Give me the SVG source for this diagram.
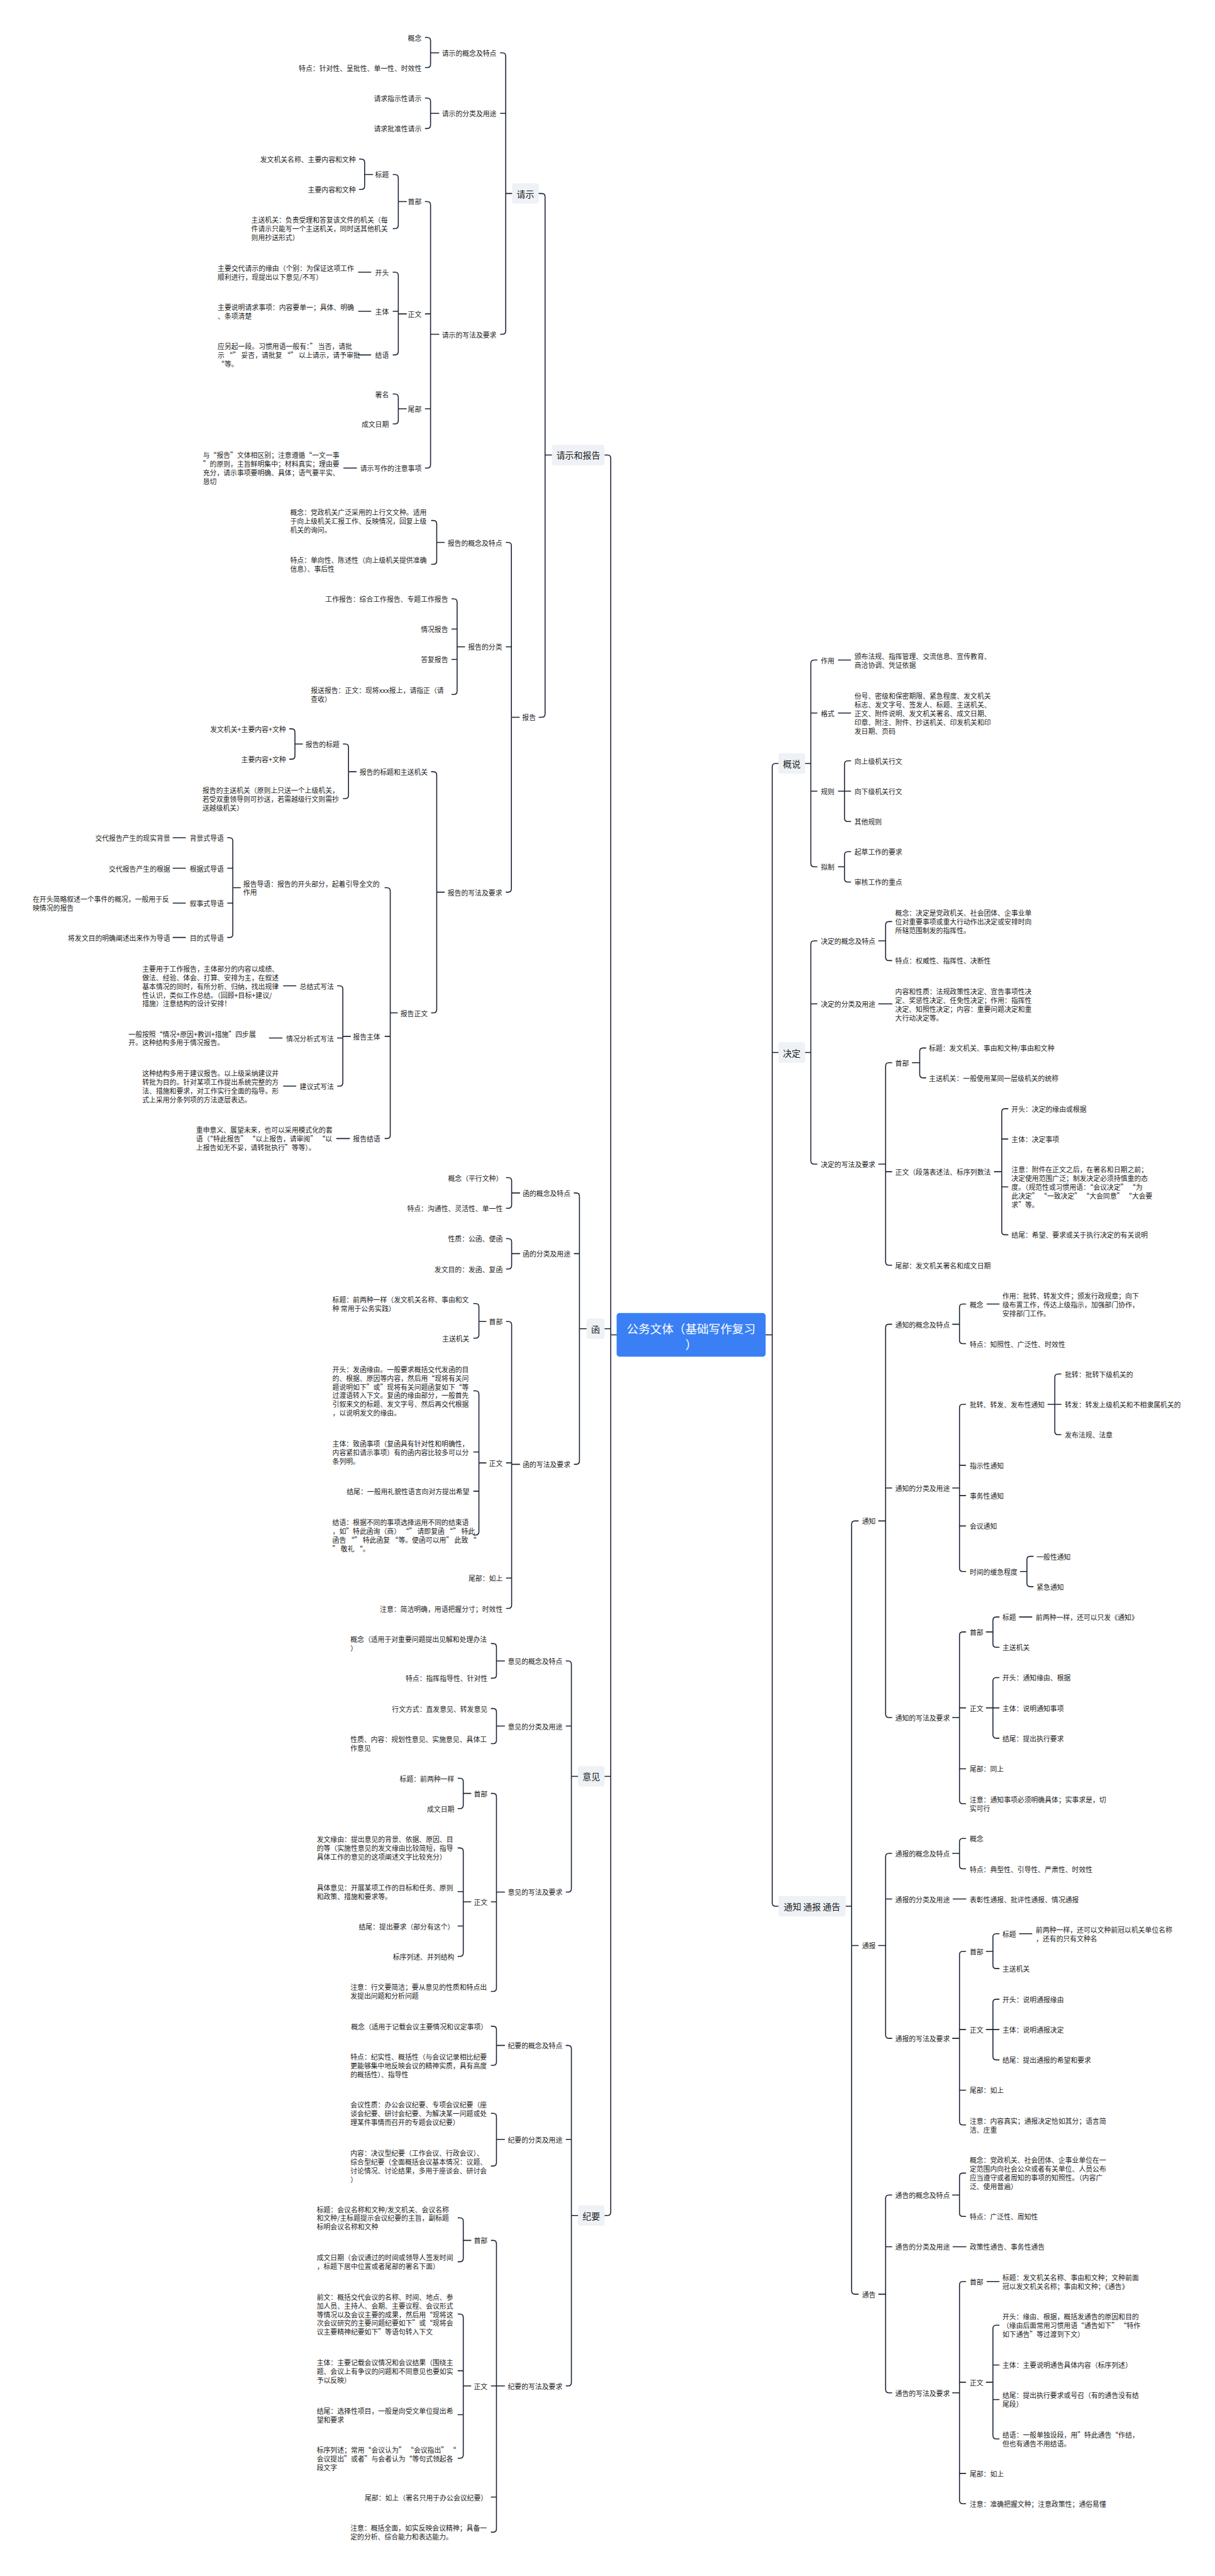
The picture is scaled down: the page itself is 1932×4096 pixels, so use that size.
<svg xmlns="http://www.w3.org/2000/svg" width="1932" height="4096" viewBox="0 0 1932 4096">
<style>
.t{font-family:"Noto Sans CJK SC","Noto Sans",sans-serif;font-size:14.4px;fill:#1c1c1c;dominant-baseline:central}
.t tspan{dominant-baseline:central}
.e{text-anchor:end}
.m{font-size:18.5px;text-anchor:middle}
.c{font-size:24.7px;fill:#fff;text-anchor:middle}
.bx{fill:#eef1f5}
.ln{fill:none;stroke:#1b2436;stroke-width:2.1;stroke-linecap:round;stroke-linejoin:round}
</style>
<rect width="1932" height="4096" fill="#fff"/>
<g transform="scale(0.754)">
<g id="connectors" class="ln">
<path d="M1275,959.5H1281Q1288,959.5 1288,966.5V4665Q1288,4672 1281,4672H1275M1275,2802H1288M1275,3746H1288M1288,2815H1300.4"/>
<path d="M1136,408H1142.5Q1149.5,408 1149.5,415V1505.5Q1149.5,1512.5 1142.5,1512.5H1137M1149.5,959.5H1164"/>
<path d="M1055.5,111.5H1059.5Q1066.5,111.5 1066.5,118.5V698Q1066.5,705 1059.5,705H1055.5M1055.5,239H1066.5M1066.5,408H1080"/>
<path d="M897,79H901Q908,79 908,86V135.6Q908,142.6 901,142.6H897M908,111.5H925.5"/>
<path d="M897,207H901Q908,207 908,214V264Q908,271 901,271H897M908,239H925.5"/>
<path d="M897,425H901Q908,425 908,432V980Q908,987 901,987H897M897,662H908M897,862H908M908,705H925.5"/>
<path d="M829,368H833Q840,368 840,375V475Q840,482 833,482H829M840,425H857"/>
<path d="M758,335.6H762Q769,335.6 769,342.6V392.5Q769,399.5 762,399.5H758M769,368H786"/>
<path d="M829,574H833Q840,574 840,581V741.5Q840,748.5 833,748.5H829M829,656.5H840M840,662H857"/>
<path d="M829,831H833Q840,831 840,838V887Q840,894 833,894H829M840,862H857"/>
<path d="M756,574H782M756,656.5H782M756,748.5H782M725,987H752"/>
<path d="M1067.5,1144H1071.5Q1078.5,1144 1078.5,1151V1874.5Q1078.5,1881.5 1071.5,1881.5H1067.5M1067.5,1364H1078.5M1078.5,1512.5H1095"/>
<path d="M910,1097.7H914Q921,1097.7 921,1104.7V1183Q921,1190 914,1190H910M921,1144H937"/>
<path d="M953,1263H957Q964,1263 964,1270V1457.5Q964,1464.5 957,1464.5H953M953,1326.5H964M953,1390.5H964M964,1364H980"/>
<path d="M910,1627.5H914Q921,1627.5 921,1634.5V2129Q921,2136 914,2136H910M921,1881.5H937"/>
<path d="M724,1569H728Q735,1569 735,1576V1677Q735,1684 728,1684H724M735,1627.5H751"/>
<path d="M611,1537H615Q622,1537 622,1544V1594Q622,1601 615,1601H611M622,1569H638"/>
<path d="M812,1872H816Q823,1872 823,1879V2394Q823,2401 816,2401H812M812,2185.5H823M823,2136H838"/>
<path d="M480,1766.6H484Q491,1766.6 491,1773.6V1970Q491,1977 484,1977H480M480,1831H491M480,1904.4H491M491,1872H507"/>
<path d="M712,2079H716Q723,2079 723,2086V2283.5Q723,2290.5 716,2290.5H712M712,2189H723M723,2185.5H739"/>
<path d="M365,1766.6H391M365,1831H391M365,1904.4H391M365,1977H391M598,2079H624M568,2189H595M598,2290.5H624M710,2401H737"/>
<path d="M1211,2515.8H1215Q1222,2515.8 1222,2522.8V3081Q1222,3088 1215,3088H1211M1211,2643.7H1222M1222,2802H1237"/>
<path d="M1068,2483.5H1072Q1079,2483.5 1079,2490.5V2541Q1079,2548 1072,2548H1068M1079,2515.8H1096"/>
<path d="M1068,2612H1072Q1079,2612 1079,2619V2669Q1079,2676 1072,2676H1068M1079,2643.7H1096"/>
<path d="M1068,2786.8H1072Q1079,2786.8 1079,2793.8V3385Q1079,3392 1072,3392H1068M1068,3085H1079M1068,3328H1079M1079,3088H1096"/>
<path d="M999,2749H1003Q1010,2749 1010,2756V2815Q1010,2822 1003,2822H999M1010,2786.8H1025"/>
<path d="M999,2933H1003Q1010,2933 1010,2940V3230Q1010,3237 1003,3237H999M999,3062H1010M999,3144.7H1010M1010,3085H1025"/>
<path d="M1194,3502.6H1198Q1205,3502.6 1205,3509.6V3983Q1205,3990 1198,3990H1194M1194,3640H1205M1205,3746H1219"/>
<path d="M1036,3466H1040Q1047,3466 1047,3473V3532Q1047,3539 1040,3539H1036M1047,3502.6H1064"/>
<path d="M1036,3603H1040Q1047,3603 1047,3610V3670Q1047,3677 1040,3677H1036M1047,3640H1064"/>
<path d="M1036,3782H1040Q1047,3782 1047,3789V4192.5Q1047,4199.5 1040,4199.5H1036M1036,4010.7H1047M1047,3990H1064"/>
<path d="M966,3750H970Q977,3750 977,3757V3807Q977,3814 970,3814H966M977,3782H993"/>
<path d="M966,3897H970Q977,3897 977,3904V4118.7Q977,4125.7 970,4125.7H966M966,3989H977M966,4061.7H977M977,4010.7H993"/>
<path d="M1194,4313.5H1198Q1205,4313.5 1205,4320.5V5024.5Q1205,5031.5 1198,5031.5H1194M1194,4511.5H1205M1205,4672H1219"/>
<path d="M1036,4273H1040Q1047,4273 1047,4280V4348.5Q1047,4355.5 1040,4355.5H1036M1047,4313.5H1064"/>
<path d="M1036,4456.5H1040Q1047,4456.5 1047,4463.5V4560.75Q1047,4567.75 1040,4567.75H1036M1047,4511.5H1064"/>
<path d="M1036,4724.6H1040Q1047,4724.6 1047,4731.6V5333Q1047,5340 1040,5340H1036M1036,5031.5H1064M1036,5266H1047"/>
<path d="M966,4677H970Q977,4677 977,4684V4762.75Q977,4769.75 970,4769.75H966M977,4724.6H993"/>
<path d="M966,4880H970Q977,4880 977,4887V5177Q977,5184 970,5184H966M966,4999.5H977M966,5092.25H977M977,5031.5H993"/>
<path d="M1641.6,1610H1635.6Q1628.6,1610 1628.6,1617V4013Q1628.6,4020 1635.6,4020H1641.6M1628.6,2219.5H1641.6M1614.7,2815H1628.6"/>
<path d="M1723,1392H1717Q1710,1392 1710,1399V1821Q1710,1828 1717,1828H1723M1710,1503.6H1723M1710,1668.5H1723M1698,1610H1710"/>
<path d="M1794,1604.5H1788Q1781,1604.5 1781,1611.5V1725.4Q1781,1732.4 1788,1732.4H1794M1768,1668.5H1794"/>
<path d="M1794,1796H1788Q1781,1796 1781,1803V1853Q1781,1860 1788,1860H1794M1768,1828H1781"/>
<path d="M1768,1392H1794M1768,1503.6H1794"/>
<path d="M1723,1984H1717Q1710,1984 1710,1991V2448Q1710,2455 1717,2455H1723M1710,2117H1723M1698,2219.5H1710"/>
<path d="M1880.7,1943.5H1874.7Q1867.7,1943.5 1867.7,1950.5V2018.7Q1867.7,2025.7 1874.7,2025.7H1880.7M1853,1984H1867.7"/>
<path d="M1880.7,2241H1874.7Q1867.7,2241 1867.7,2248V2661Q1867.7,2668 1874.7,2668H1880.7M1867.7,2471H1880.7M1853,2455H1867.7"/>
<path d="M1853,2117H1881"/>
<path d="M1952.6,2210H1946.6Q1939.6,2210 1939.6,2217V2266Q1939.6,2273 1946.6,2273H1952.6M1924,2241H1939.6"/>
<path d="M2125.6,2338H2119.6Q2112.6,2338 2112.6,2345V2597Q2112.6,2604 2119.6,2604H2125.6M2112.6,2402H2125.6M2112.6,2503H2125.6M2097,2471H2112.6"/>
<path d="M1810,3207.4H1803Q1796,3207.4 1796,3214.4V4831Q1796,4838 1803,4838H1810M1796,4102.7H1810M1783.6,4020H1796"/>
<path d="M1880.7,2792.6H1874.7Q1867.7,2792.6 1867.7,2799.6V3615Q1867.7,3622 1874.7,3622H1880.7M1867.7,3138H1880.7M1853,3207.4H1867.7"/>
<path d="M2036.5,2750H2030.5Q2023.5,2750 2023.5,2757V2826.6Q2023.5,2833.6 2030.5,2833.6H2036.5M2009,2792.6H2023.5"/>
<path d="M2081.6,2750H2107"/>
<path d="M2036.5,2961.5H2030.5Q2023.5,2961.5 2023.5,2968.5V3307Q2023.5,3314 2030.5,3314H2036.5M2023.5,3090H2036.5M2023.5,3154H2036.5M2023.5,3218H2036.5M2009,3138H2023.5"/>
<path d="M2237.5,2897.6H2231.5Q2224.5,2897.6 2224.5,2904.6V3018.5Q2224.5,3025.5 2231.5,3025.5H2237.5M2210,2961.5H2237.5"/>
<path d="M2178.7,3282H2172.7Q2165.7,3282 2165.7,3289V3339Q2165.7,3346 2172.7,3346H2178.7M2152,3314H2165.7"/>
<path d="M2036.5,3441.5H2030.5Q2023.5,3441.5 2023.5,3448.5V3796.7Q2023.5,3803.7 2030.5,3803.7H2036.5M2023.5,3601.6H2036.5M2023.5,3730H2036.5M2009,3622H2023.5"/>
<path d="M2107,3410H2101Q2094,3410 2094,3417V3466.7Q2094,3473.7 2101,3473.7H2107M2080,3441.5H2094"/>
<path d="M2150,3410H2176"/>
<path d="M2107,3537.7H2101Q2094,3537.7 2094,3544.7V3658.6Q2094,3665.6 2101,3665.6H2107M2080,3601.6H2107"/>
<path d="M1880.7,3908.5H1874.7Q1867.7,3908.5 1867.7,3915.5V4291.6Q1867.7,4298.6 1874.7,4298.6H1880.7M1867.7,4004.7H1880.7M1853,4102.7H1867.7"/>
<path d="M2036.5,3877H2030.5Q2023.5,3877 2023.5,3884V3934Q2023.5,3941 2030.5,3941H2036.5M2009,3908.5H2023.5"/>
<path d="M2010,4004.7H2037"/>
<path d="M2036.5,4115H2030.5Q2023.5,4115 2023.5,4122V4474Q2023.5,4481 2030.5,4481H2036.5M2023.5,4280H2036.5M2023.5,4407.8H2036.5M2009,4298.6H2023.5"/>
<path d="M2107,4078H2101Q2094,4078 2094,4085V4144.4Q2094,4151.4 2101,4151.4H2107M2080,4115H2094"/>
<path d="M2150,4078H2176"/>
<path d="M2107,4216H2101Q2094,4216 2094,4223V4337Q2094,4344 2101,4344H2107M2080,4280H2107"/>
<path d="M1880.7,4629H1874.7Q1867.7,4629 1867.7,4636V5039Q1867.7,5046 1874.7,5046H1880.7M1867.7,4738H1880.7M1853,4838H1867.7"/>
<path d="M2036.5,4582.75H2030.5Q2023.5,4582.75 2023.5,4589.75V4667Q2023.5,4674 2030.5,4674H2036.5M2009,4629H2023.5"/>
<path d="M2010,4738H2037"/>
<path d="M2036.5,4811.4H2030.5Q2023.5,4811.4 2023.5,4818.4V5272.8Q2023.5,5279.8 2030.5,5279.8H2036.5M2023.5,5023.7H2036.5M2023.5,5216H2036.5M2009,5046H2023.5"/>
<path d="M2081.6,4811.4H2107"/>
<path d="M2107,4903.5H2101Q2094,4903.5 2094,4910.5V5136.25Q2094,5143.25 2101,5143.25H2107M2094,4987.4H2107M2094,5060.25H2107M2080,5023.7H2094"/>
</g>

<g id="root"><rect x="1300.4" y="2769" width="314.3" height="92" rx="6" fill="#3a80f4"/><text class="t c"><tspan x="1457.5" y="2799.6">公务文体（基础写作复习</tspan><tspan x="1457.5" y="2832.5">）</tspan></text></g>

<!-- LEFT: 请示和报告 -->
<g id="n_qsbg"><rect class="bx" x="1164" y="938" width="111" height="43" rx="5"/><text class="t m" x="1219.5" y="959.5">请示和报告</text></g>
<g id="n_qs"><rect class="bx" x="1080" y="386.5" width="56" height="43" rx="5"/><text class="t m" x="1108" y="408">请示</text></g>
<g id="n_qs1"><text class="t e" x="1047" y="111.5">请示的概念及特点</text></g>
<g id="n_qs1a"><text class="t e" x="889" y="79">概念</text></g>
<g id="n_qs1b"><text class="t e" x="889" y="142.6">特点：针对性、呈批性、单一性、时效性</text></g>
<g id="n_qs2"><text class="t e" x="1047" y="239">请示的分类及用途</text></g>
<g id="n_qs2a"><text class="t e" x="889" y="207">请求指示性请示</text></g>
<g id="n_qs2b"><text class="t e" x="889" y="271">请求批准性请示</text></g>
<g id="n_qs3"><text class="t e" x="1047" y="705">请示的写法及要求</text></g>
<g id="n_qs3a"><text class="t e" x="889" y="425">首部</text></g>
<g id="n_qs3a1"><text class="t e" x="820" y="368">标题</text></g>
<g id="n_qs3a1a"><text class="t e" x="750" y="335.6">发文机关名称、主要内容和文种</text></g>
<g id="n_qs3a1b"><text class="t e" x="750" y="399.5">主要内容和文种</text></g>
<g id="n_qs3a2"><text class="t"><tspan x="530" y="463.5">主送机关：负责受理和答复该文件的机关（每</tspan><tspan x="530" y="482">件请示只能写一个主送机关，同时送其他机关</tspan><tspan x="530" y="500.5">则用抄送形式）</tspan></text></g>
<g id="n_qs3b"><text class="t e" x="889" y="662">正文</text></g>
<g id="n_qs3b1"><text class="t e" x="820" y="574">开头</text></g>
<g id="n_qs3b1a"><text class="t"><tspan x="459" y="564.75">主要交代请示的缘由（个别：为保证这项工作</tspan><tspan x="459" y="583.25">顺利进行，现提出以下意见/不写）</tspan></text></g>
<g id="n_qs3b2"><text class="t e" x="820" y="656.5">主体</text></g>
<g id="n_qs3b2a"><text class="t"><tspan x="459" y="647.25">主要说明请求事项：内容要单一；具体、明确</tspan><tspan x="459" y="665.75">、条项清楚</tspan></text></g>
<g id="n_qs3b3"><text class="t e" x="820" y="748.5">结语</text></g>
<g id="n_qs3b3a"><text class="t"><tspan x="459" y="730">应另起一段。习惯用语一般有：” 当否，请批</tspan><tspan x="459" y="748.5">示 “” 妥否，请批复 “” 以上请示，请予审批</tspan><tspan x="459" y="767">“等。</tspan></text></g>
<g id="n_qs3c"><text class="t e" x="889" y="862">尾部</text></g>
<g id="n_qs3c1"><text class="t e" x="820" y="831">署名</text></g>
<g id="n_qs3c2"><text class="t e" x="820" y="894">成文日期</text></g>
<g id="n_qs3d"><text class="t e" x="889" y="987">请示写作的注意事项</text></g>
<g id="n_qs3d1"><text class="t"><tspan x="428" y="959.25">与“报告”文体相区别；注意遵循“一文一事</tspan><tspan x="428" y="977.75">”的原则，主旨鲜明集中；材料真实；理由要</tspan><tspan x="428" y="996.25">充分，请示事项要明确、具体；语气要平实、</tspan><tspan x="428" y="1014.75">恳切</tspan></text></g>

<g id="n_bg"><text class="t e" x="1130" y="1512.5">报告</text></g>
<g id="n_bg1"><text class="t e" x="1059" y="1144">报告的概念及特点</text></g>
<g id="n_bg1a"><text class="t"><tspan x="612" y="1079.2">概念：党政机关广泛采用的上行文文种。适用</tspan><tspan x="612" y="1097.7">于向上级机关汇报工作、反映情况，回复上级</tspan><tspan x="612" y="1116.2">机关的询问。</tspan></text></g>
<g id="n_bg1b"><text class="t"><tspan x="612" y="1180.75">特点：单向性、陈述性（向上级机关提供准确</tspan><tspan x="612" y="1199.25">信息）、事后性</tspan></text></g>
<g id="n_bg2"><text class="t e" x="1059" y="1364">报告的分类</text></g>
<g id="n_bg2a"><text class="t e" x="945" y="1263">工作报告：综合工作报告、专题工作报告</text></g>
<g id="n_bg2b"><text class="t e" x="945" y="1326.5">情况报告</text></g>
<g id="n_bg2c"><text class="t e" x="945" y="1390.5">答复报告</text></g>
<g id="n_bg2d"><text class="t"><tspan x="655.5" y="1455.25">报送报告：正文：现将xxx报上，请指正（请</tspan><tspan x="655.5" y="1473.75">查收）</tspan></text></g>
<g id="n_bg3"><text class="t e" x="1059" y="1881.5">报告的写法及要求</text></g>
<g id="n_bg3a"><text class="t e" x="902" y="1627.5">报告的标题和主送机关</text></g>
<g id="n_bg3a1"><text class="t e" x="716" y="1569">报告的标题</text></g>
<g id="n_bg3a1a"><text class="t e" x="603" y="1537">发文机关+主要内容+文种</text></g>
<g id="n_bg3a1b"><text class="t e" x="603" y="1601">主要内容+文种</text></g>
<g id="n_bg3a2"><text class="t"><tspan x="427" y="1665.5">报告的主送机关（原则上只送一个上级机关，</tspan><tspan x="427" y="1684">若受双重领导则可抄送，若需越级行文则需抄</tspan><tspan x="427" y="1702.5">送越级机关）</tspan></text></g>
<g id="n_bg3b"><text class="t e" x="902" y="2136">报告正文</text></g>
<g id="n_bg3b1"><text class="t"><tspan x="513" y="1862.75">报告导语：报告的开头部分，起着引导全文的</tspan><tspan x="513" y="1881.25">作用</tspan></text></g>
<g id="n_dy1"><text class="t e" x="472" y="1766.6">背景式导语</text></g>
<g id="n_dy1a"><text class="t e" x="359" y="1766.6">交代报告产生的现实背景</text></g>
<g id="n_dy2"><text class="t e" x="472" y="1831">根据式导语</text></g>
<g id="n_dy2a"><text class="t e" x="359" y="1831">交代报告产生的根据</text></g>
<g id="n_dy3"><text class="t e" x="472" y="1904.4">叙事式导语</text></g>
<g id="n_dy3a"><text class="t"><tspan x="69" y="1895.15">在开头简略叙述一个事件的概况，一般用于反</tspan><tspan x="69" y="1913.65">映情况的报告</tspan></text></g>
<g id="n_dy4"><text class="t e" x="472" y="1977">目的式导语</text></g>
<g id="n_dy4a"><text class="t e" x="359" y="1977">将发文目的明确阐述出来作为导语</text></g>
<g id="n_bg3b2"><text class="t e" x="802" y="2185.5">报告主体</text></g>
<g id="n_zt1"><text class="t e" x="704" y="2079">总结式写法</text></g>
<g id="n_zt1a"><text class="t"><tspan x="300" y="2042">主要用于工作报告，主体部分的内容以成绩、</tspan><tspan x="300" y="2060.5">做法、经验、体会、打算、安排为主，在叙述</tspan><tspan x="300" y="2079">基本情况的同时，有所分析、归纳，找出规律</tspan><tspan x="300" y="2097.5">性认识，类似工作总结。（回顾+目标+建议/</tspan><tspan x="300" y="2116">措施）注意结构的设计安排！</tspan></text></g>
<g id="n_zt2"><text class="t e" x="704" y="2189">情况分析式写法</text></g>
<g id="n_zt2a"><text class="t"><tspan x="271" y="2179.75">一般按照“情况+原因+教训+措施”四步展</tspan><tspan x="271" y="2198.25">开。这种结构多用于情况报告。</tspan></text></g>
<g id="n_zt3"><text class="t e" x="704" y="2290.5">建议式写法</text></g>
<g id="n_zt3a"><text class="t"><tspan x="300" y="2262.75">这种结构多用于建议报告。以上级采纳建议并</tspan><tspan x="300" y="2281.25">转批为目的。针对某项工作提出系统完整的方</tspan><tspan x="300" y="2299.75">法、措施和要求，对工作实行全面的指导。形</tspan><tspan x="300" y="2318.25">式上采用分条列项的方法逐层表达。</tspan></text></g>
<g id="n_bg3b3"><text class="t e" x="802" y="2401">报告结语</text></g>
<g id="n_bg3b3a"><text class="t"><tspan x="413.6" y="2382.5">重申意义、展望未来，也可以采用模式化的套</tspan><tspan x="413.6" y="2401">语（“特此报告” “以上报告，请审阅” “以</tspan><tspan x="413.6" y="2419.5">上报告如无不妥，请转批执行”等等）。</tspan></text></g>

<!-- 函 -->
<g id="n_h"><rect class="bx" x="1237" y="2780.5" width="38" height="43" rx="5"/><text class="t m" x="1256" y="2802">函</text></g>
<g id="n_h1"><text class="t e" x="1203" y="2515.8">函的概念及特点</text></g>
<g id="n_h1a"><text class="t e" x="1060" y="2483.5">概念（平行文种）</text></g>
<g id="n_h1b"><text class="t e" x="1060" y="2548">特点：沟通性、灵活性、单一性</text></g>
<g id="n_h2"><text class="t e" x="1203" y="2643.7">函的分类及用途</text></g>
<g id="n_h2a"><text class="t e" x="1060" y="2612">性质：公函、便函</text></g>
<g id="n_h2b"><text class="t e" x="1060" y="2676">发文目的：发函、复函</text></g>
<g id="n_h3"><text class="t e" x="1203" y="3088">函的写法及要求</text></g>
<g id="n_h3a"><text class="t e" x="1060" y="2786.8">首部</text></g>
<g id="n_h3a1"><text class="t"><tspan x="701" y="2739.75">标题：前两种一样（发文机关名称、事由和文</tspan><tspan x="701" y="2758.25">种 常用于公务实践）</tspan></text></g>
<g id="n_h3a2"><text class="t e" x="990" y="2822">主送机关</text></g>
<g id="n_h3b"><text class="t e" x="1060" y="3085">正文</text></g>
<g id="n_h3b1"><text class="t"><tspan x="701" y="2886.75">开头：发函缘由。一般要求概括交代发函的目</tspan><tspan x="701" y="2905.25">的、根据、原因等内容，然后用“现将有关问</tspan><tspan x="701" y="2923.75">题说明如下”或”现将有关问题函复如下“等</tspan><tspan x="701" y="2942.25">过渡语转入下文。复函的缘由部分，一般首先</tspan><tspan x="701" y="2960.75">引叙来文的标题、发文字号、然后再交代根据</tspan><tspan x="701" y="2979.25">，以说明发文的缘由。</tspan></text></g>
<g id="n_h3b2"><text class="t"><tspan x="701" y="3043.5">主体：致函事项（复函具有针对性和明确性，</tspan><tspan x="701" y="3062">内容紧扣请示事项）有的函内容比较多可以分</tspan><tspan x="701" y="3080.5">条列明。</tspan></text></g>
<g id="n_h3b3"><text class="t e" x="990" y="3144.7">结尾：一般用礼貌性语言向对方提出希望</text></g>
<g id="n_h3b4"><text class="t"><tspan x="701" y="3209.25">结语：根据不同的事项选择运用不同的结束语</tspan><tspan x="701" y="3227.75">，如”特此函询（商） “” 请即复函 “” 特此</tspan><tspan x="701" y="3246.25">函告 “” 特此函复 “等。便函可以用” 此致 “</tspan><tspan x="701" y="3264.75">” 敬礼 “。</tspan></text></g>
<g id="n_h3c"><text class="t e" x="1060" y="3328">尾部：如上</text></g>
<g id="n_h3d"><text class="t e" x="1060" y="3392">注意：简洁明确，用语把握分寸；时效性</text></g>

<!-- 意见 -->
<g id="n_yj"><rect class="bx" x="1219" y="3724.5" width="56" height="43" rx="5"/><text class="t m" x="1247" y="3746">意见</text></g>
<g id="n_yj1"><text class="t e" x="1186" y="3502.6">意见的概念及特点</text></g>
<g id="n_yj1a"><text class="t"><tspan x="739" y="3456.75">概念（适用于对重要问题提出见解和处理办法</tspan><tspan x="739" y="3475.25">）</tspan></text></g>
<g id="n_yj1b"><text class="t e" x="1028" y="3539">特点：指挥指导性、针对性</text></g>
<g id="n_yj2"><text class="t e" x="1186" y="3640">意见的分类及用途</text></g>
<g id="n_yj2a"><text class="t e" x="1028" y="3603">行文方式：直发意见、转发意见</text></g>
<g id="n_yj2b"><text class="t"><tspan x="739" y="3667.75">性质、内容：规划性意见、实施意见、具体工</tspan><tspan x="739" y="3686.25">作意见</tspan></text></g>
<g id="n_yj3"><text class="t e" x="1186" y="3990">意见的写法及要求</text></g>
<g id="n_yj3a"><text class="t e" x="1028" y="3782">首部</text></g>
<g id="n_yj3a1"><text class="t e" x="958" y="3750">标题：前两种一样</text></g>
<g id="n_yj3a2"><text class="t e" x="958" y="3814">成文日期</text></g>
<g id="n_yj3b"><text class="t e" x="1028" y="4010.7">正文</text></g>
<g id="n_yj3b1"><text class="t"><tspan x="668" y="3878.5">发文缘由：提出意见的背景、依据、原因、目</tspan><tspan x="668" y="3897">的等（实施性意见的发文缘由比较简短，指导</tspan><tspan x="668" y="3915.5">具体工作的意见的这项阐述文字比较充分）</tspan></text></g>
<g id="n_yj3b2"><text class="t"><tspan x="668" y="3979.75">具体意见：开展某项工作的目标和任务、原则</tspan><tspan x="668" y="3998.25">和政策、措施和要求等。</tspan></text></g>
<g id="n_yj3b3"><text class="t e" x="958" y="4061.7">结尾：提出要求（部分有这个）</text></g>
<g id="n_yj3b4"><text class="t e" x="958" y="4125.7">标序列述、并列结构</text></g>
<g id="n_yj3c"><text class="t"><tspan x="739" y="4190.25">注意：行文要简洁；要从意见的性质和特点出</tspan><tspan x="739" y="4208.75">发提出问题和分析问题</tspan></text></g>

<!-- 纪要 -->
<g id="n_jy"><rect class="bx" x="1219" y="4650.5" width="56" height="43" rx="5"/><text class="t m" x="1247" y="4672">纪要</text></g>
<g id="n_jy1"><text class="t e" x="1186" y="4313.5">纪要的概念及特点</text></g>
<g id="n_jy1a"><text class="t e" x="1028" y="4273">概念（适用于记载会议主要情况和议定事项）</text></g>
<g id="n_jy1b"><text class="t"><tspan x="739" y="4337">特点：纪实性、概括性（与会议记录相比纪要</tspan><tspan x="739" y="4355.5">更能够集中地反映会议的精神实质，具有高度</tspan><tspan x="739" y="4374">的概括性）、指导性</tspan></text></g>
<g id="n_jy2"><text class="t e" x="1186" y="4511.5">纪要的分类及用途</text></g>
<g id="n_jy2a"><text class="t"><tspan x="739" y="4438">会议性质：办公会议纪要、专项会议纪要（座</tspan><tspan x="739" y="4456.5">谈会纪要、研讨会纪要、为解决某一问题或处</tspan><tspan x="739" y="4475">理某件事情而召开的专题会议纪要）</tspan></text></g>
<g id="n_jy2b"><text class="t"><tspan x="739" y="4540">内容：决议型纪要（工作会议、行政会议）、</tspan><tspan x="739" y="4558.5">综合型纪要（全面概括会议基本情况：议题、</tspan><tspan x="739" y="4577">讨论情况、讨论结果，多用于座谈会、研讨会</tspan><tspan x="739" y="4595.5">）</tspan></text></g>
<g id="n_jy3"><text class="t e" x="1186" y="5031.5">纪要的写法及要求</text></g>
<g id="n_jy3a"><text class="t e" x="1028" y="4724.6">首部</text></g>
<g id="n_jy3a1"><text class="t"><tspan x="668" y="4658.5">标题：会议名称和文种/发文机关、会议名称</tspan><tspan x="668" y="4677">和文种/主标题提示会议纪要的主旨，副标题</tspan><tspan x="668" y="4695.5">标明会议名称和文种</tspan></text></g>
<g id="n_jy3a2"><text class="t"><tspan x="668" y="4760.5">成文日期（会议通过的时间或领导人签发时间</tspan><tspan x="668" y="4779">，标题下居中位置或者尾部的署名下面）</tspan></text></g>
<g id="n_jy3b"><text class="t e" x="1028" y="5031.5">正文</text></g>
<g id="n_jy3b1"><text class="t"><tspan x="668" y="4843">前文：概括交代会议的名称、时间、地点、参</tspan><tspan x="668" y="4861.5">加人员、主持人、会期、主要议程、会议形式</tspan><tspan x="668" y="4880">等情况以及会议主要的成果，然后用“现将这</tspan><tspan x="668" y="4898.5">次会议研究的主要问题纪要如下”或“现将会</tspan><tspan x="668" y="4917">议主要精神纪要如下”等语句转入下文</tspan></text></g>
<g id="n_jy3b2"><text class="t"><tspan x="668" y="4981">主体：主要记载会议情况和会议结果（围绕主</tspan><tspan x="668" y="4999.5">题、会议上有争议的问题和不同意见也要如实</tspan><tspan x="668" y="5018">予以反映）</tspan></text></g>
<g id="n_jy3b3"><text class="t"><tspan x="668" y="5083">结尾：选择性项目，一般是向受文单位提出希</tspan><tspan x="668" y="5101.5">望和要求</tspan></text></g>
<g id="n_jy3b4"><text class="t"><tspan x="668" y="5165.5">标序列述；常用“会议认为” “会议指出” “</tspan><tspan x="668" y="5184">会议提出”或者”与会者认为“等句式领起各</tspan><tspan x="668" y="5202.5">段文字</tspan></text></g>
<g id="n_jy3c"><text class="t e" x="1028" y="5266">尾部：如上（署名只用于办公会议纪要）</text></g>
<g id="n_jy3d"><text class="t"><tspan x="739" y="5330.75">注意：概括全面，如实反映会议精神；具备一</tspan><tspan x="739" y="5349.25">定的分析、综合能力和表达能力。</tspan></text></g>

<!-- RIGHT: 概说 -->
<g id="n_gs"><rect class="bx" x="1641.6" y="1588.5" width="56.4" height="43" rx="5"/><text class="t m" x="1669.8" y="1610">概说</text></g>
<g id="n_gs1"><text class="t" x="1731" y="1392">作用</text></g>
<g id="n_gs1a"><text class="t"><tspan x="1802" y="1383">颁布法规、指挥管理、交流信息、宣传教育、</tspan><tspan x="1802" y="1401.5">商洽协调、凭证依据</tspan></text></g>
<g id="n_gs2"><text class="t" x="1731" y="1503.6">格式</text></g>
<g id="n_gs2a"><text class="t"><tspan x="1802" y="1466.6">份号、密级和保密期限、紧急程度、发文机关</tspan><tspan x="1802" y="1485.1">标志、发文字号、签发人、标题、主送机关、</tspan><tspan x="1802" y="1503.6">正文、附件说明、发文机关署名、成文日期、</tspan><tspan x="1802" y="1522.1">印章、附注、附件、抄送机关、印发机关和印</tspan><tspan x="1802" y="1540.6">发日期、页码</tspan></text></g>
<g id="n_gs3"><text class="t" x="1731" y="1668.5">规则</text></g>
<g id="n_gs3a"><text class="t" x="1802" y="1604.5">向上级机关行文</text></g>
<g id="n_gs3b"><text class="t" x="1802" y="1668.5">向下级机关行文</text></g>
<g id="n_gs3c"><text class="t" x="1802" y="1732.4">其他规则</text></g>
<g id="n_gs4"><text class="t" x="1731" y="1828">拟制</text></g>
<g id="n_gs4a"><text class="t" x="1802" y="1796">起草工作的要求</text></g>
<g id="n_gs4b"><text class="t" x="1802" y="1860">审核工作的重点</text></g>

<!-- 决定 -->
<g id="n_jd"><rect class="bx" x="1641.6" y="2198" width="56.4" height="43" rx="5"/><text class="t m" x="1669.8" y="2219.5">决定</text></g>
<g id="n_jd1"><text class="t" x="1731" y="1984">决定的概念及特点</text></g>
<g id="n_jd1a"><text class="t"><tspan x="1888" y="1925">概念：决定是党政机关、社会团体、企事业单</tspan><tspan x="1888" y="1943.5">位对重要事项或重大行动作出决定或安排时向</tspan><tspan x="1888" y="1962">所辖范围制发的指挥性。</tspan></text></g>
<g id="n_jd1b"><text class="t" x="1888" y="2025.7">特点：权威性、指挥性、决断性</text></g>
<g id="n_jd2"><text class="t" x="1731" y="2117">决定的分类及用途</text></g>
<g id="n_jd2a"><text class="t"><tspan x="1888" y="2090.25">内容和性质：法规政策性决定、宣告事项性决</tspan><tspan x="1888" y="2108.75">定、奖惩性决定、任免性决定；作用：指挥性</tspan><tspan x="1888" y="2127.25">决定、知照性决定；内容：重要问题决定和重</tspan><tspan x="1888" y="2145.75">大行动决定等。</tspan></text></g>
<g id="n_jd3"><text class="t" x="1731" y="2455">决定的写法及要求</text></g>
<g id="n_jd3a"><text class="t" x="1888" y="2241">首部</text></g>
<g id="n_jd3a1"><text class="t" x="1959" y="2210">标题：发文机关、事由和文种/事由和文种</text></g>
<g id="n_jd3a2"><text class="t" x="1959" y="2273">主送机关：一般使用某同一层级机关的统称</text></g>
<g id="n_jd3b"><text class="t" x="1888" y="2471">正文（段落表述法、标序列数法</text></g>
<g id="n_jd3b1"><text class="t" x="2133" y="2338">开头：决定的缘由或根据</text></g>
<g id="n_jd3b2"><text class="t" x="2133" y="2402">主体：决定事项</text></g>
<g id="n_jd3b3"><text class="t"><tspan x="2133" y="2466">注意：附件在正文之后，在署名和日期之前；</tspan><tspan x="2133" y="2484.5">决定使用范围广泛；制发决定必须持慎重的态</tspan><tspan x="2133" y="2503">度。（规范性或习惯用语：“会议决定” “为</tspan><tspan x="2133" y="2521.5">此决定” “一致决定” “大会同意” “大会要</tspan><tspan x="2133" y="2540">求”等。</tspan></text></g>
<g id="n_jd3b4"><text class="t" x="2133" y="2604">结尾：希望、要求或关于执行决定的有关说明</text></g>
<g id="n_jd3c"><text class="t" x="1888" y="2668">尾部：发文机关署名和成文日期</text></g>

<!-- 通知 通报 通告 -->
<g id="n_tz"><rect class="bx" x="1641.6" y="3998.5" width="142" height="43" rx="5"/><text class="t m" x="1712.6" y="4020">通知 通报 通告</text></g>
<g id="n_tzh"><text class="t" x="1818" y="3207.4">通知</text></g>
<g id="n_tzh1"><text class="t" x="1888" y="2792.6">通知的概念及特点</text></g>
<g id="n_tzh1a"><text class="t" x="2045" y="2750">概念</text></g>
<g id="n_tzh1a1"><text class="t"><tspan x="2114" y="2732.5">作用：批转、转发文件；颁发行政规章；向下</tspan><tspan x="2114" y="2751">级布置工作，传达上级指示，加强部门协作，</tspan><tspan x="2114" y="2769.5">安排部门工作。</tspan></text></g>
<g id="n_tzh1b"><text class="t" x="2045" y="2833.6">特点：知照性、广泛性、时效性</text></g>
<g id="n_tzh2"><text class="t" x="1888" y="3138">通知的分类及用途</text></g>
<g id="n_tzh2a"><text class="t" x="2045" y="2961.5">批转、转发、发布性通知</text></g>
<g id="n_tzh2a1"><text class="t" x="2245.7" y="2897.6">批转：批转下级机关的</text></g>
<g id="n_tzh2a2"><text class="t" x="2245.7" y="2961.5">转发：转发上级机关和不相隶属机关的</text></g>
<g id="n_tzh2a3"><text class="t" x="2245.7" y="3025.5">发布法规、法章</text></g>
<g id="n_tzh2b"><text class="t" x="2045" y="3090">指示性通知</text></g>
<g id="n_tzh2c"><text class="t" x="2045" y="3154">事务性通知</text></g>
<g id="n_tzh2d"><text class="t" x="2045" y="3218">会议通知</text></g>
<g id="n_tzh2e"><text class="t" x="2045" y="3314">时间的缓急程度</text></g>
<g id="n_tzh2e1"><text class="t" x="2186" y="3282">一般性通知</text></g>
<g id="n_tzh2e2"><text class="t" x="2186" y="3346">紧急通知</text></g>
<g id="n_tzh3"><text class="t" x="1888" y="3622">通知的写法及要求</text></g>
<g id="n_tzh3a"><text class="t" x="2045" y="3441.5">首部</text></g>
<g id="n_tzh3a1"><text class="t" x="2114" y="3410">标题</text></g>
<g id="n_tzh3a1a"><text class="t" x="2184.5" y="3410">前两种一样，还可以只发《通知》</text></g>
<g id="n_tzh3a2"><text class="t" x="2114" y="3473.7">主送机关</text></g>
<g id="n_tzh3b"><text class="t" x="2045" y="3601.6">正文</text></g>
<g id="n_tzh3b1"><text class="t" x="2114" y="3537.7">开头：通知缘由、根据</text></g>
<g id="n_tzh3b2"><text class="t" x="2114" y="3601.6">主体：说明通知事项</text></g>
<g id="n_tzh3b3"><text class="t" x="2114" y="3665.6">结尾：提出执行要求</text></g>
<g id="n_tzh3c"><text class="t" x="2045" y="3730">尾部：同上</text></g>
<g id="n_tzh3d"><text class="t"><tspan x="2045" y="3794.5">注意：通知事项必须明确具体；实事求是，切</tspan><tspan x="2045" y="3813">实可行</tspan></text></g>

<g id="n_tb"><text class="t" x="1818" y="4102.7">通报</text></g>
<g id="n_tb1"><text class="t" x="1888" y="3908.5">通报的概念及特点</text></g>
<g id="n_tb1a"><text class="t" x="2045" y="3877">概念</text></g>
<g id="n_tb1b"><text class="t" x="2045" y="3941">特点：典型性、引导性、严肃性、时效性</text></g>
<g id="n_tb2"><text class="t" x="1888" y="4004.7">通报的分类及用途</text></g>
<g id="n_tb2a"><text class="t" x="2045" y="4004.7">表彰性通报、批评性通报、情况通报</text></g>
<g id="n_tb3"><text class="t" x="1888" y="4298.6">通报的写法及要求</text></g>
<g id="n_tb3a"><text class="t" x="2045" y="4115">首部</text></g>
<g id="n_tb3a1"><text class="t" x="2114" y="4078">标题</text></g>
<g id="n_tb3a1a"><text class="t"><tspan x="2184.5" y="4069">前两种一样，还可以文种前冠以机关单位名称</tspan><tspan x="2184.5" y="4087.5">，还有的只有文种名</tspan></text></g>
<g id="n_tb3a2"><text class="t" x="2114" y="4151.4">主送机关</text></g>
<g id="n_tb3b"><text class="t" x="2045" y="4280">正文</text></g>
<g id="n_tb3b1"><text class="t" x="2114" y="4216">开头：说明通报缘由</text></g>
<g id="n_tb3b2"><text class="t" x="2114" y="4280">主体：说明通报决定</text></g>
<g id="n_tb3b3"><text class="t" x="2114" y="4344">结尾：提出通报的希望和要求</text></g>
<g id="n_tb3c"><text class="t" x="2045" y="4407.8">尾部：如上</text></g>
<g id="n_tb3d"><text class="t"><tspan x="2045" y="4471.75">注意：内容真实；通报决定恰如其分；语言简</tspan><tspan x="2045" y="4490.25">洁、庄重</tspan></text></g>

<g id="n_tg"><text class="t" x="1818" y="4838">通告</text></g>
<g id="n_tg1"><text class="t" x="1888" y="4629">通告的概念及特点</text></g>
<g id="n_tg1a"><text class="t"><tspan x="2045" y="4555">概念：党政机关、社会团体、企事业单位在一</tspan><tspan x="2045" y="4573.5">定范围内向社会公众或者有关单位、人员公布</tspan><tspan x="2045" y="4592">应当遵守或者周知的事项的知照性。（内容广</tspan><tspan x="2045" y="4610.5">泛、使用普遍）</tspan></text></g>
<g id="n_tg1b"><text class="t" x="2045" y="4674">特点：广泛性、周知性</text></g>
<g id="n_tg2"><text class="t" x="1888" y="4738">通告的分类及用途</text></g>
<g id="n_tg2a"><text class="t" x="2045" y="4738">政策性通告、事务性通告</text></g>
<g id="n_tg3"><text class="t" x="1888" y="5046">通告的写法及要求</text></g>
<g id="n_tg3a"><text class="t" x="2045" y="4811.4">首部</text></g>
<g id="n_tg3a1"><text class="t"><tspan x="2114" y="4802">标题：发文机关名称、事由和文种；文种前面</tspan><tspan x="2114" y="4820.5">冠以发文机关名称；事由和文种；《通告》</tspan></text></g>
<g id="n_tg3b"><text class="t" x="2045" y="5023.7">正文</text></g>
<g id="n_tg3b1"><text class="t"><tspan x="2114" y="4885">开头：缘由、根据，概括发通告的原因和目的</tspan><tspan x="2114" y="4903.5">（缘由后面常用习惯用语“通告如下” “特作</tspan><tspan x="2114" y="4922">如下通告”等过渡到下文）</tspan></text></g>
<g id="n_tg3b2"><text class="t" x="2114" y="4987.4">主体：主要说明通告具体内容（标序列述）</text></g>
<g id="n_tg3b3"><text class="t"><tspan x="2114" y="5051">结尾：提出执行要求或号召（有的通告没有结</tspan><tspan x="2114" y="5069.5">尾段）</tspan></text></g>
<g id="n_tg3b4"><text class="t"><tspan x="2114" y="5134">结语：一般单独设段，用”特此通告“作结，</tspan><tspan x="2114" y="5152.5">但也有通告不用结语。</tspan></text></g>
<g id="n_tg3c"><text class="t" x="2045" y="5216">尾部：如上</text></g>
<g id="n_tg3d"><text class="t" x="2045" y="5279.8">注意：准确把握文种；注意政策性；通俗易懂</text></g>
</g>
</svg>
